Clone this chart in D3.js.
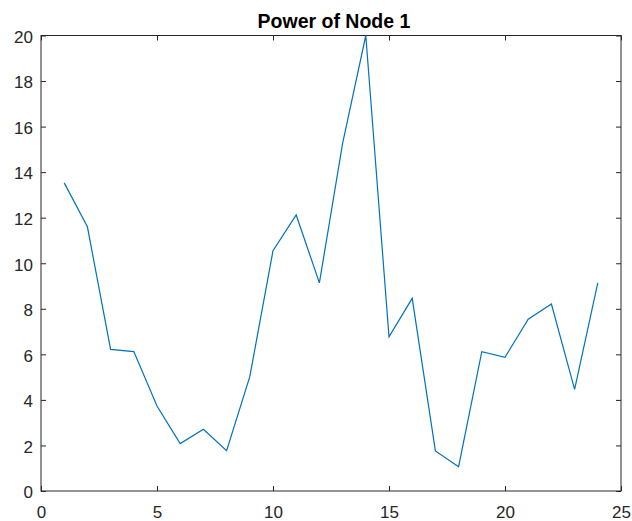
<!DOCTYPE html>
<html>
<head>
<meta charset="utf-8">
<script src="https://cdn.jsdelivr.net/npm/d3@7"></script>
<style>
  html, body { margin: 0; padding: 0; background: #fff; }
  svg { display: block; }
  text { font-family: "Liberation Sans", Arial, Helvetica, sans-serif; }
</style>
</head>
<body>
<svg id="chart" width="632" height="521"></svg>
<script>
const titleText = "Power of Node 1";
const xValues = [1,2,3,4,5,6,7,8,9,10,11,12,13,14,15,16,17,18,19,20,21,22,23,24];
const powerValues = [13.53,11.60,6.22,6.12,3.73,2.08,2.71,1.77,5.02,10.55,12.12,9.14,15.26,20.0,6.77,8.46,1.76,1.07,6.12,5.87,7.54,8.21,4.46,9.14];
const xTicks = [0,5,10,15,20,25];
const yTicks = [0,2,4,6,8,10,12,14,16,18,20];

const svg = d3.select("#chart");
const m = {left: 41, right: 621, top: 35.5, bottom: 491};
const x = d3.scaleLinear().domain([0,25]).range([m.left, m.right]);
const y = d3.scaleLinear().domain([0,20]).range([m.bottom, m.top]);
const axisColor = "#262626";

// box
svg.append("rect").attr("x", m.left).attr("y", m.top)
  .attr("width", m.right - m.left).attr("height", m.bottom - m.top)
  .attr("fill", "none").attr("stroke", axisColor).attr("stroke-width", 1);

function styleAxis(g, hideText) {
  g.select(".domain").remove();
  g.selectAll(".tick line").attr("stroke", axisColor).attr("stroke-width", 1);
  g.selectAll(".tick text").attr("fill", axisColor).attr("font-size", "17px");
  if (hideText) g.selectAll(".tick text").remove();
}

// bottom
svg.append("g").attr("transform", `translate(0,${m.bottom})`)
  .call(d3.axisBottom(x).tickValues(xTicks).tickSize(-5).tickPadding(15).tickFormat(d3.format("d")))
  .call(g => styleAxis(g, false));
// top
svg.append("g").attr("transform", `translate(0,${m.top})`)
  .call(d3.axisTop(x).tickValues(xTicks).tickSize(-5))
  .call(g => styleAxis(g, true));
// left
svg.append("g").attr("transform", `translate(${m.left},0)`)
  .call(d3.axisLeft(y).tickValues(yTicks).tickSize(-5).tickPadding(8).tickFormat(d3.format("d")))
  .call(g => { styleAxis(g, false); g.selectAll(".tick text").attr("dy", "0.4em"); });
// right
svg.append("g").attr("transform", `translate(${m.right},0)`)
  .call(d3.axisRight(y).tickValues(yTicks).tickSize(-5))
  .call(g => styleAxis(g, true));

// line
const data = xValues.map((d, i) => [d, powerValues[i]]);
svg.append("path").datum(data)
  .attr("fill", "none").attr("stroke", "#0072BD").attr("stroke-width", 1.2)
  .attr("stroke-linejoin", "miter")
  .attr("d", d3.line().x(d => x(d[0])).y(d => y(d[1])));

// title
svg.append("text").attr("x", 334).attr("y", 27.5)
  .attr("text-anchor", "middle").attr("font-size", "19.5px").attr("font-weight", "bold")
  .attr("fill", "#000").text(titleText);
</script>
</body>
</html>
